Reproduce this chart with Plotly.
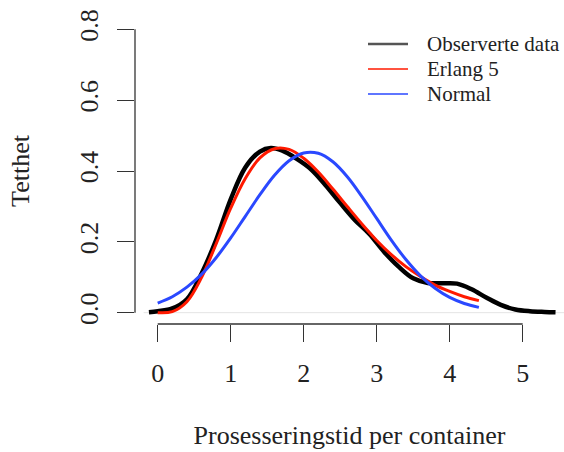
import plotly.graph_objects as go

# Observed data (kernel density estimate)
obs_x = [-0.12, 0.0, 0.2, 0.4, 0.6, 0.8, 1.0, 1.2, 1.4, 1.55, 1.7, 1.9, 2.1, 2.3, 2.5,
         2.7, 2.9, 3.1, 3.3, 3.5, 3.7, 3.9, 4.1, 4.3, 4.5, 4.7, 4.9, 5.1, 5.3, 5.45]
obs_y = [0.001, 0.004, 0.012, 0.038, 0.110, 0.205, 0.320, 0.410, 0.455, 0.465, 0.458,
         0.435, 0.405, 0.360, 0.310, 0.262, 0.222, 0.172, 0.130, 0.097, 0.084, 0.083,
         0.082, 0.066, 0.043, 0.022, 0.009, 0.004, 0.002, 0.001]

# Fitted curves
fit_x = [0.0, 0.2, 0.4, 0.6, 0.8, 1.0, 1.2, 1.4, 1.6, 1.8, 2.0, 2.2, 2.4, 2.6, 2.8,
         3.0, 3.2, 3.4, 3.6, 3.8, 4.0, 4.2, 4.4]
erlang_y = [0.000, 0.003, 0.031, 0.099, 0.194, 0.295, 0.379, 0.437, 0.463, 0.461, 0.436,
            0.397, 0.349, 0.299, 0.250, 0.204, 0.164, 0.130, 0.102, 0.078, 0.060, 0.045, 0.034]
normal_y = [0.027, 0.045, 0.072, 0.108, 0.155, 0.211, 0.272, 0.333, 0.388, 0.429, 0.451,
            0.450, 0.426, 0.383, 0.327, 0.266, 0.205, 0.150, 0.104, 0.069, 0.043, 0.026, 0.015]

legend_names = ["Observerte data", "Erlang 5", "Normal"]
x_ticks = [0, 1, 2, 3, 4, 5]
y_ticks = [0.0, 0.2, 0.4, 0.6, 0.8]

FONT = "Liberation Serif"
BLACK = "#000000"
RED = "#ff1a00"
BLUE = "#2a48ff"
legend_line_colors = ["#555555", RED, BLUE]
legend_line_widths = [2.5, 1.5, 1.5]

fig = go.Figure()
for xs, ys, name, col, w in [(obs_x, obs_y, legend_names[0], BLACK, 4.5),
                             (fit_x, erlang_y, legend_names[1], RED, 3),
                             (fit_x, normal_y, legend_names[2], BLUE, 3)]:
    fig.add_trace(go.Scatter(x=xs, y=ys, mode="lines", name=name,
                             line=dict(color=col, width=w, shape="spline"),
                             showlegend=False))

fig.update_layout(
    width=564, height=452,
    margin=dict(l=135, r=0, t=18, b=128),
    plot_bgcolor="white", paper_bgcolor="white",
    font=dict(family=FONT, size=26, color="#222"),
    showlegend=False,
    xaxis=dict(range=[-0.311, 5.566], tickvals=x_ticks, ticktext=[str(v) for v in x_ticks],
               ticks="outside", ticklen=17, tickwidth=1.3, tickcolor="#333",
               showgrid=False, zeroline=False, showline=False, ticklabelstandoff=9,
               title=dict(text="Prosesseringstid per container", font=dict(size=26), standoff=38)),
    yaxis=dict(range=[-0.032, 0.832], tickvals=y_ticks, ticktext=[f"{v:.1f}" for v in y_ticks],
               ticks="outside", ticklen=17, tickwidth=1.3, tickcolor="#333", tickangle=-90,
               showgrid=False, zeroline=False, showline=False, ticklabelstandoff=9,
               title=dict(text="Tetthet", font=dict(size=26), standoff=37)),
)

# zero line (gray, full width) and detached R-style axis lines
fig.add_shape(type="line", xref="paper", yref="y", x0=0.02, x1=1, y0=0, y1=0,
              line=dict(color="#e4e4e4", width=1), layer="below")
fig.add_shape(type="line", xref="paper", yref="y", x0=0, x1=0, y0=0, y1=0.8,
              line=dict(color="#333", width=1.3))
fig.add_shape(type="line", xref="x", yref="paper", x0=0, x1=5, y0=0, y1=0,
              line=dict(color="#333", width=1.3))

# legend drawn R-style: short line samples with text labels
PLOT_W = 564 - 135
PLOT_H = 452 - 18 - 128
leg_x0 = (368 - 135) / PLOT_W
leg_x1 = (408 - 135) / PLOT_W
leg_tx = (425 - 135) / PLOT_W
for i, (name, col, w) in enumerate(zip(legend_names, legend_line_colors, legend_line_widths)):
    ypx = 44 + 25 * i
    yp = (452 - 128 - ypx) / PLOT_H
    fig.add_shape(type="line", xref="paper", yref="paper", x0=leg_x0, x1=leg_x1, y0=yp, y1=yp,
                  line=dict(color=col, width=w))
    fig.add_annotation(xref="paper", yref="paper", x=leg_tx, y=yp, text=name, showarrow=False,
                       xanchor="left", yanchor="middle", font=dict(family=FONT, size=21, color="#222"))

fig.write_html("out.html")
